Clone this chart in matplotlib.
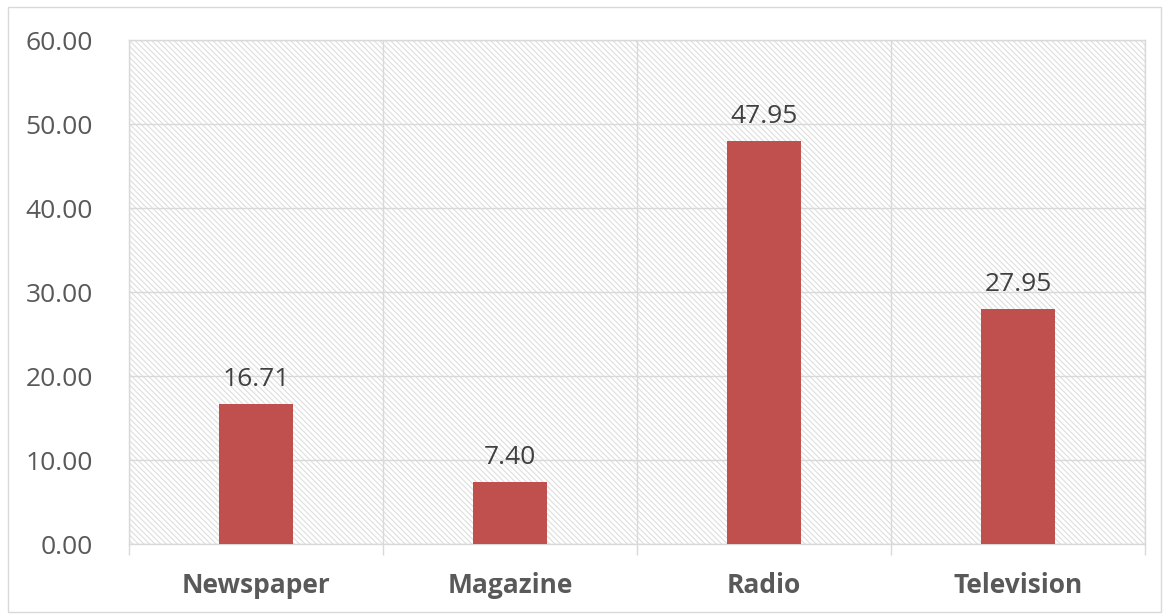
import matplotlib.pyplot as plt
from matplotlib.patches import Rectangle
import numpy as np

categories = ["Newspaper", "Magazine", "Radio", "Television"]
values = [16.71, 7.40, 47.95, 27.95]
yticks = [0, 10, 20, 30, 40, 50, 60]

plt.rcParams['font.family'] = ['Open Sans', 'DejaVu Sans']
plt.rcParams['hatch.linewidth'] = 0.8

fig = plt.figure(figsize=(11.65, 6.15), dpi=100)
ax = fig.add_axes([129 / 1165, 1 - 544 / 615, (1145 - 129) / 1165, (544 - 40) / 615])

# outer chart border
fig.patches.append(Rectangle((8 / 1165, 3 / 615), 1153 / 1165, 605 / 615,
                             transform=fig.transFigure, fill=False,
                             edgecolor='#d9d9d9', linewidth=1))

# hatched plot area
ax.add_patch(Rectangle((0, 0), 1, 1, transform=ax.transAxes, facecolor='white',
                       edgecolor='#dedede', linewidth=0, hatch='\\' * 6, zorder=0))

x = np.arange(len(categories))
ax.bar(x, values, width=0.29, color='#C0504D', zorder=3)
for xi, v in zip(x, values):
    ax.text(xi, v + 1.4, f"{v:.2f}", ha='center', va='bottom', fontsize=19, color='#404040', zorder=4)

ax.set_xlim(-0.5, 3.5)
ax.set_ylim(0, 60)
ax.set_yticks(yticks)
ax.set_yticklabels([f"{t:.2f}" for t in yticks], fontsize=19, color='#595959')
ax.set_xticks(x)
ax.set_xticklabels(categories, fontsize=19, fontweight='bold', color='#595959')
ax.set_xticks(np.arange(-0.5, 4, 1), minor=True)
ax.tick_params(axis='x', which='major', length=0, pad=20)
ax.tick_params(axis='x', which='minor', length=8, color='#d9d9d9', width=1)
ax.tick_params(axis='y', length=0, pad=26)
ax.grid(axis='y', color='#d9d9d9', linewidth=1, zorder=1)
ax.grid(axis='x', which='minor', color='#d9d9d9', linewidth=1, zorder=1)
ax.set_axisbelow(True)
for s in ax.spines.values():
    s.set_color('#d9d9d9')
    s.set_linewidth(1)

fig.savefig("out.png", dpi=100)
